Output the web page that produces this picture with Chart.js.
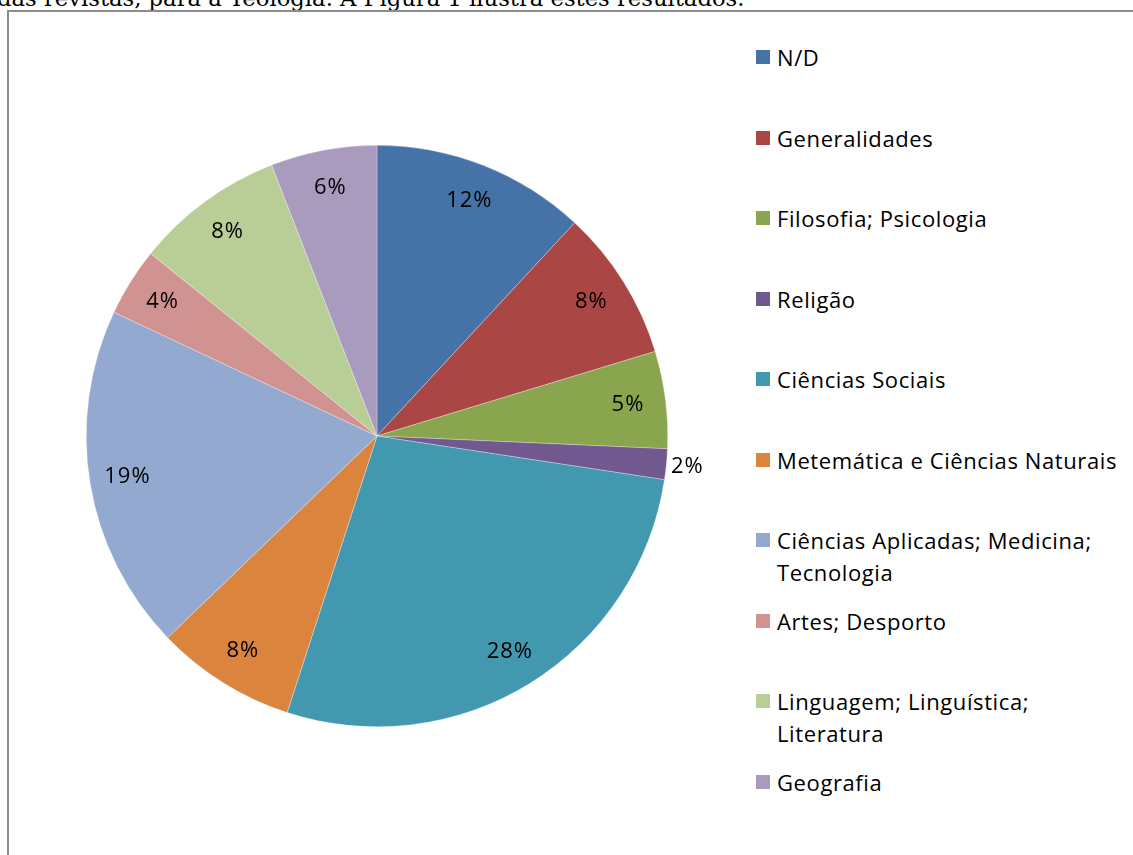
<!DOCTYPE html>
<html>
<head>
<meta charset="utf-8">
<script src="https://cdn.jsdelivr.net/npm/chart.js@4.4.1/dist/chart.umd.min.js"></script>
<style>
  body { margin: 0; width: 1133px; height: 855px; overflow: hidden; background: #fff; position: relative; }
  #intro { position: absolute; left: -3px; top: -14px; font-family: 'DejaVu Serif', serif; font-size: 22.7px; line-height: 24px; color: #000; white-space: nowrap; }
  #frame { position: absolute; left: 7px; top: 10px; width: 1200px; height: 900px; border: 2px solid #8c8c8c; background: #fff; }
  #wrap { position: absolute; left: 10px; top: 12px; width: 734px; height: 848px; }
  #legend { position: absolute; left: 756px; top: 41px; font-family: 'Open Sans', sans-serif; font-size: 22px; letter-spacing: 0.6px; color: #000; }
  .item { position: absolute; left: 0; white-space: nowrap; }
  .box { position: absolute; left: 0; top: 9px; width: 14px; height: 14px; }
  .txt { position: absolute; left: 21px; top: 0; line-height: 32px; }
</style>
</head>
<body>
<div id="intro">das revistas, para a Teologia. A Figura 1 ilustra estes resultados.</div>
<div id="frame"></div>
<div id="wrap"><canvas id="pieChart"></canvas></div>
<div id="legend"></div>
<script>
// @ts-nocheck
const categorias = [
  'N/D',
  'Generalidades',
  'Filosofia; Psicologia',
  'Religão',
  'Ciências Sociais',
  'Metemática e Ciências Naturais',
  ['Ciências Aplicadas; Medicina;', 'Tecnologia'],
  'Artes; Desporto',
  ['Linguagem; Linguística;', 'Literatura'],
  'Geografia',
];
const percentagens = [11.9, 8.4, 5.4, 1.7, 27.6, 7.8, 19.2, 3.8, 8.3, 5.9];
const cores = [
  '#4572A7', '#AA4643', '#89A54E', '#71588F', '#4198AF',
  '#DB843D', '#93A9CF', '#D19392', '#B9CD96', '#A99BBD',
];

// legenda em HTML (espaçamento fixo como no Excel)
const legendEl = document.getElementById('legend');
categorias.forEach((cat, i) => {
  const item = document.createElement('div');
  item.className = 'item';
  item.style.top = (i * 80.5) + 'px';
  const box = document.createElement('div');
  box.className = 'box';
  box.style.background = cores[i];
  const txt = document.createElement('div');
  txt.className = 'txt';
  txt.innerHTML = (Array.isArray(cat) ? cat : [cat]).join('<br>');
  item.appendChild(box);
  item.appendChild(txt);
  legendEl.appendChild(item);
});

// rótulos de percentagem nas fatias
const rotulos = {
  id: 'rotulos',
  afterDatasetsDraw(chart) {
    const ctx = chart.ctx;
    const meta = chart.getDatasetMeta(0);
    ctx.save();
    ctx.font = '22px "Open Sans", sans-serif';
    ctx.letterSpacing = '1px';
    ctx.fillStyle = '#000';
    ctx.textAlign = 'center';
    ctx.textBaseline = 'middle';
    meta.data.forEach((arc, i) => {
      const p = arc.getProps(['x', 'y', 'startAngle', 'endAngle', 'outerRadius'], true);
      const mid = (p.startAngle + p.endAngle) / 2;
      const valor = percentagens[i];
      const r = valor < 3 ? p.outerRadius + 21 : p.outerRadius * 0.87;
      ctx.fillText(Math.round(valor) + '%', p.x + Math.cos(mid) * r, p.y + Math.sin(mid) * r);
    });
    ctx.restore();
  },
};

const chart = new Chart(document.getElementById('pieChart'), {
  type: 'pie',
  data: {
    labels: categorias,
    datasets: [{
      data: percentagens,
      backgroundColor: cores,
      borderColor: 'rgba(255,255,255,0.6)',
      borderWidth: 0.5,
    }],
  },
  options: {
    responsive: true,
    maintainAspectRatio: false,
    animation: false,
    layout: { padding: { left: 76, right: 76, top: 133, bottom: 133 } },
    plugins: {
      legend: { display: false },
      tooltip: { enabled: false },
    },
  },
  plugins: [rotulos],
});
</script>
</body>
</html>
